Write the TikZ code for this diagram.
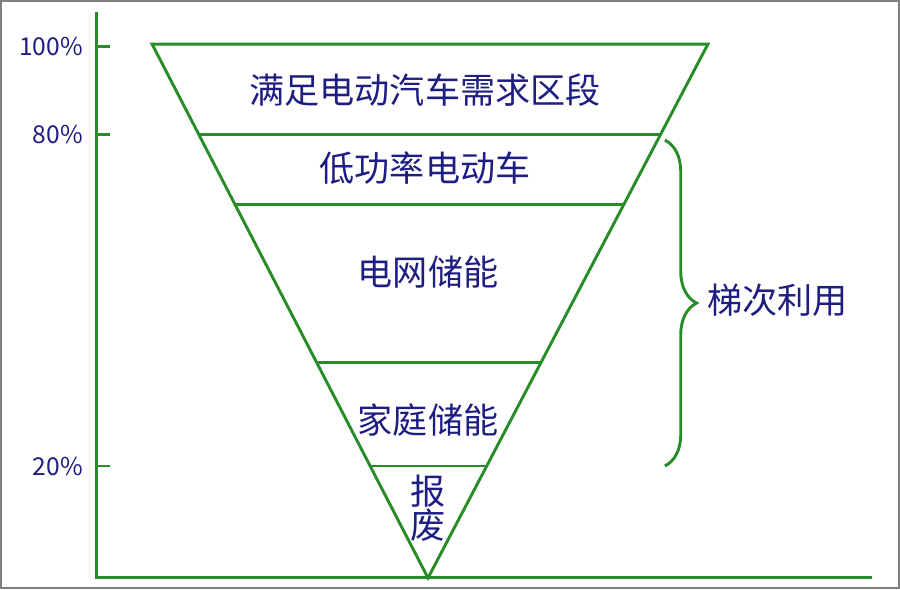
\documentclass[tikz,border=0pt]{standalone}
\usepackage{fontspec}
\setmainfont{Noto Sans CJK SC}
\usetikzlibrary{decorations.pathreplacing,positioning}
\definecolor{frame}{RGB}{40,140,40}
\definecolor{navy}{RGB}{30,30,130}
\begin{document}
\begin{tikzpicture}[x=0.03cm,y=-0.03cm,line width=2.5pt]
		\tikzstyle{band}=[draw=frame]
		\tikzstyle{lbl}=[text=navy,font=\fontsize{30}{33}\selectfont]
		\tikzstyle{pct}=[text=navy,font=\fontsize{21}{24}\selectfont,anchor=east]
		\draw[gray,line width=2pt] (1,1) rectangle (899,588);

		% axes
		\coordinate (ytop) at (96,12);
		\coordinate (orig) at (96,578);
		\coordinate (xend) at (872,578);
		\draw[frame] (ytop) -- (orig) -- (xend);

		% funnel
		\coordinate (tl) at (152,44);
		\coordinate (tr) at (708,44);
		\coordinate (apex) at (428,578);
		\draw[band] (tl) -- (tr) -- (apex) -- cycle;
		\coordinate (a1) at (200,134); \coordinate (b1) at (660,134);
		\coordinate (a2) at (235,204); \coordinate (b2) at (624,204);
		\coordinate (a3) at (318,362); \coordinate (b3) at (541,362);
		\coordinate (a4) at (370,466); \coordinate (b4) at (487,466);
		\draw[band] (a1) -- (b1);
		\draw[band] (a2) -- (b2);
		\draw[band] (a3) -- (b3);
		\draw[band] (a4) -- (b4);

		% ticks
		\coordinate (t100) at (110,46);
		\coordinate (t80) at (110,134);
		\coordinate (t20) at (110,466);
		\draw[frame] (96,46) -- (t100);
		\draw[frame] (96,134) -- (t80);
		\draw[frame] (96,466) -- (t20);
		\node[pct](p100) at (88,46){100\%};
		\node[pct](p80) at (88,134){80\%};
		\node[pct](p20) at (88,466){20\%};

		\node[lbl](s1) at (425,90){满足电动汽车需求区段};
		\node[lbl](s2) at (425,168){低功率电动车};
		\node[lbl](s3) at (428,272){电网储能};
		\node[lbl](s4) at (428,420){家庭储能};
		\node[lbl,align=center](s5) at (428,508){报\\[-4pt]废};

		\coordinate (br0) at (665,140);
		\coordinate (br1) at (665,466);
		\draw[frame,decorate,decoration={brace,amplitude=0.95cm}] (br0) -- (br1);
		\node[lbl,anchor=west](use) at (702,300){梯次利用};
\end{tikzpicture}
\end{document}
